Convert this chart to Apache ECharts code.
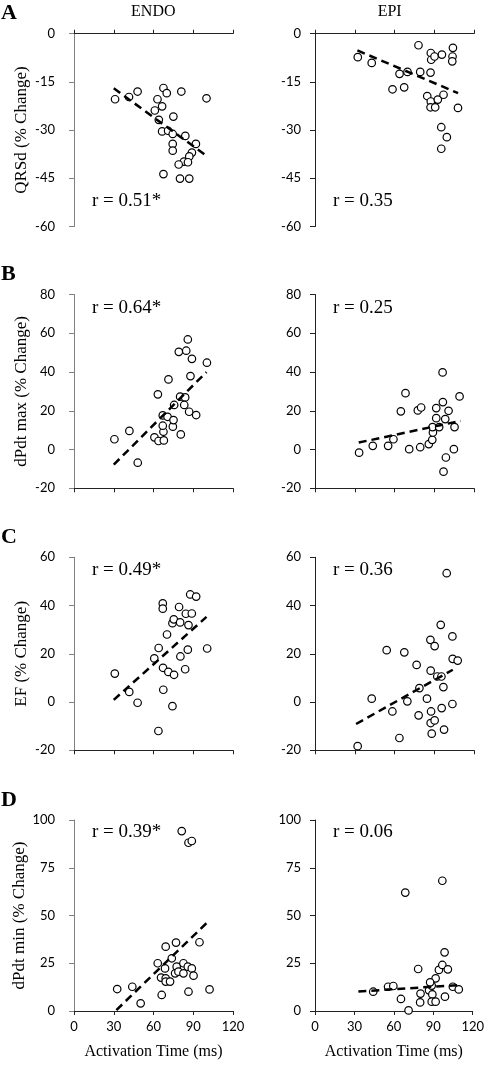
<!DOCTYPE html>
<html><head><meta charset="utf-8">
<script src="https://cdn.jsdelivr.net/npm/echarts/dist/echarts.min.js"></script>
<style>html,body{margin:0;padding:0;background:#fff}#c{width:487px;height:1070px}</style>
</head><body><div id="c"></div>
<script>
// ---------- DATA ----------
const columnHeaders = ['ENDO', 'EPI'];
const panelLetters = ['A', 'B', 'C', 'D'];
const yTitles = ['QRSd (% Change)', 'dPdt max (% Change)', 'EF (% Change)', 'dPdt min (% Change)'];
const xTitle = 'Activation Time (ms)';
const rLabels = [['r = 0.51*', 'r = 0.35'], ['r = 0.64*', 'r = 0.25'], ['r = 0.49*', 'r = 0.36'], ['r = 0.39*', 'r = 0.06']];

// axis [min, max, interval]
const timeAxis = [0, 120, 30];
const qrsdAxis = [-60, 0, 15];
const dpdtMaxAxis = [-20, 80, 20];
const efAxis = [-20, 60, 20];
const dpdtMinAxis = [0, 100, 25];

const endoQrsd = [[31,-20.4],[41.5,-19.7],[48,-18],[63,-20.4],[67.5,-16.9],[70,-18.5],[81,-18],[100,-20.1],[66.5,-22.6],[61,-23.9],[64,-26.8],[75,-25.8],[66.5,-30.4],[71,-30.2],[74.5,-31.2],[84,-31.8],[74.5,-34.3],[92,-34.3],[74.5,-36.4],[89,-37],[87,-38.2],[83,-39.8],[86,-40],[79,-40.7],[67.5,-43.7],[80,-45.1],[87,-45.1]];
const epiQrsd = [[32.3,-7.3],[42.8,-9.1],[58.5,-17.3],[63.8,-12.5],[67.3,-16.7],[69.8,-11.9],[78.1,-3.6],[79.4,-11.9],[87.4,-6],[87.7,-8.1],[90.2,-7.1],[95.8,-6.5],[104.1,-4.4],[103.8,-7.1],[103.6,-8.6],[87.2,-12.1],[84.7,-19.4],[87.4,-21.1],[87.2,-22.9],[90.7,-22.9],[92.7,-20.5],[97,-19],[107.9,-23.1],[95.3,-29.1],[99.5,-32.2],[95.3,-35.8]];
const endoDpdtMax = [[30.5,5.3],[41.8,9.6],[48.1,-6.8],[60.7,6.3],[63.8,4.4],[67.8,4.7],[67.5,9.2],[67,12.3],[67,17.6],[70.6,16.9],[63.3,28.5],[71.3,36.2],[74.6,11.8],[75.1,15.2],[75.6,23],[80.1,27.3],[80.6,7.8],[83.9,26.9],[83.2,23],[86.9,19.5],[92.2,17.8],[87.9,37.9],[79.1,50.4],[84.7,51],[85.9,56.8],[89,46.8],[100.3,44.8]];
const epiDpdtMax = [[33.3,-1.6],[43.6,1.9],[55.2,1.9],[59.2,5.3],[64.8,19.7],[68.3,29.1],[71.1,0.2],[77.6,20.2],[80.1,21.7],[79.4,1.2],[85.9,2.8],[88.5,5],[89,8.8],[88.7,11.6],[91.5,21.4],[91.5,16.2],[93.7,11.6],[96.5,24.5],[96.3,39.8],[100.8,20],[98.3,15.7],[105.3,11.6],[109.1,27.4],[104.8,0.2],[98.8,-4.1],[97,-11.4]];
const endoEf = [[30.8,11.8],[41.7,4.2],[48,-0.3],[63.7,-12],[60.6,18.1],[63.9,22.4],[67,40.9],[67,38.7],[70.2,28],[67.2,14.2],[71.2,12.5],[75.5,11.3],[67.4,5.1],[74.3,-1.7],[74.3,32.7],[75.3,34.3],[80.1,33],[79.3,39.4],[80.3,18.9],[83.9,13.6],[84.4,36.6],[86.4,31.9],[85.9,21.7],[88.9,36.7],[87.7,44.6],[92.2,43.7],[100.5,22.2]];
const epiEf = [[32.2,-18.3],[42.8,1.4],[54.1,21.5],[58.4,-3.9],[63.7,-14.9],[67.4,20.6],[69.7,0.3],[76.7,15.4],[78.8,5.8],[78.2,-5.5],[84.5,1.4],[87.1,25.8],[90.3,23.2],[87.3,13],[87.6,-3.9],[87.3,-8.7],[90.3,-7.6],[88.1,-13.1],[92.3,10.6],[95.4,10.6],[96.9,6.2],[95.6,-2.5],[97.4,-11.4],[94.9,32],[99.4,53.4],[103.7,27.2],[103.9,17.9],[107.7,17.2],[103.7,-0.8]];
const endoDpdtMin = [[32.6,11.5],[44,12.7],[50.3,4],[63.2,25],[69.2,33.7],[65.7,17.5],[68.7,22.3],[69.2,17.1],[69.2,15.4],[72.5,15.4],[66.2,8.4],[73.8,27.6],[77,35.8],[77.5,23.2],[76.3,19.7],[78.8,20.6],[82.6,25],[82.6,19.7],[85.9,23.2],[88.9,22.3],[90.2,18.5],[86.4,10.1],[94.7,36],[102.3,11.3],[81.3,94.2],[86.4,88.1],[88.9,89]];
const epiDpdtMin = [[44.3,10.1],[55.6,12.7],[59.6,13.1],[65.4,6.3],[68.7,62],[71.2,0.3],[78.5,22],[80.3,9.1],[80,4.5],[86.8,10.8],[88.8,13.3],[89.3,8.7],[88.8,4.9],[91.8,4.9],[91.8,17.1],[94.3,21.5],[96.9,24.1],[98.6,30.7],[101.1,21.8],[98.9,7.5],[104.9,12.7],[109.4,11.3],[96.9,68.2],[87.6,15]];

// dashed trend lines: [[xStart, yStart], [xEnd, yEnd]]
const endoQrsdTrend = [[30,-17],[100,-38]];
const epiQrsdTrend = [[32,-5.2],[108,-18.5]];
const endoDpdtMaxTrend = [[30,-7.8],[100,40]];
const epiDpdtMaxTrend = [[33,3.6],[110,14.8]];
const endoEfTrend = [[30,0.9],[100,35.3]];
const epiEfTrend = [[31,-9.1],[104,13.4]];
const endoDpdtMinTrend = [[32,0.5],[100,46]];
const epiDpdtMinTrend = [[33,10.2],[110,13.6]];

// ---------- LAYOUT ----------
const colLeft = [74, 315];
const colWidth = 159;
const rowTop = [33.7, 294.5, 557.3, 820];
const rowHeight = [192.8, 193.8, 193, 191];
const rOffset = [168, 14.5, 13.5, 12.5];
const serif = 'Liberation Serif';
const sans = 'Lato';

const rows = [
  {axis: qrsdAxis, pts: [endoQrsd, epiQrsd], trend: [endoQrsdTrend, epiQrsdTrend]},
  {axis: dpdtMaxAxis, pts: [endoDpdtMax, epiDpdtMax], trend: [endoDpdtMaxTrend, epiDpdtMaxTrend]},
  {axis: efAxis, pts: [endoEf, epiEf], trend: [endoEfTrend, epiEfTrend]},
  {axis: dpdtMinAxis, pts: [endoDpdtMin, epiDpdtMin], trend: [endoDpdtMinTrend, epiDpdtMinTrend]}
];

const grid = [], xAxis = [], yAxis = [], series = [], graphic = [];
let idx = 0;
rows.forEach((row, r) => {
  for (let c = 0; c < 2; c++) {
    grid.push({left: colLeft[c], top: rowTop[r], width: colWidth, height: rowHeight[r], containLabel: false});
    xAxis.push({
      gridIndex: idx, type: 'value', min: timeAxis[0], max: timeAxis[1], interval: timeAxis[2],
      position: r === 0 ? 'top' : 'bottom',
      axisLine: {show: true, onZero: false, lineStyle: {color: '#222', width: 1}},
      axisTick: {show: true, length: 4, lineStyle: {color: '#222'}},
      axisLabel: {show: r === 3, margin: 9, fontFamily: sans, fontSize: 13, color: '#000'},
      splitLine: {show: false},
      name: r === 3 ? xTitle : '', nameLocation: 'middle', nameGap: 33,
      nameTextStyle: {fontFamily: serif, fontSize: 16, color: '#000'}
    });
    yAxis.push({
      gridIndex: idx, type: 'value', min: row.axis[0], max: row.axis[1], interval: row.axis[2],
      axisLine: {show: true, onZero: false, lineStyle: {color: c === 0 ? '#808080' : '#222', width: 1}},
      axisTick: {show: true, length: 5, lineStyle: {color: c === 0 ? '#808080' : '#222'}},
      axisLabel: {margin: c === 0 ? 19 : 14, fontFamily: sans, fontSize: 13, color: '#000'},
      splitLine: {show: false},
      name: c === 0 ? yTitles[r] : '', nameLocation: 'middle', nameGap: 44,
      nameTextStyle: {fontFamily: serif, fontSize: 17, color: '#000'}
    });
    series.push({
      type: 'scatter', xAxisIndex: idx, yAxisIndex: idx, data: row.pts[c],
      symbol: 'circle', symbolSize: 7.5,
      itemStyle: {color: '#fff', borderColor: '#000', borderWidth: 1.2, opacity: 1}, z: 2
    });
    series.push({
      type: 'line', xAxisIndex: idx, yAxisIndex: idx, data: row.trend[c],
      symbol: 'none', silent: true,
      lineStyle: {color: '#000', width: 2.5, type: [8, 5]}, z: 3
    });
    graphic.push({
      type: 'text', left: colLeft[c] + 18, top: rowTop[r] + rOffset[r] - 10,
      style: {text: rLabels[r][c], font: '19px "' + serif + '"', fill: '#000'}
    });
    idx++;
  }
  graphic.push({
    type: 'text', left: 1, top: rowTop[r] - 31,
    style: {text: panelLetters[r], font: 'bold 22px "' + serif + '"', fill: '#000'}
  });
});
columnHeaders.forEach((h, c) => {
  graphic.push({
    type: 'text', left: colLeft[c] + colWidth / 2 - (h.length * 5.6), top: 4,
    style: {text: h, font: '16px "' + serif + '"', fill: '#000'}
  });
});

const chart = echarts.init(document.getElementById('c'));
chart.setOption({
  animation: false, backgroundColor: '#fff',
  grid, xAxis, yAxis, series, graphic
});
</script></body></html>
